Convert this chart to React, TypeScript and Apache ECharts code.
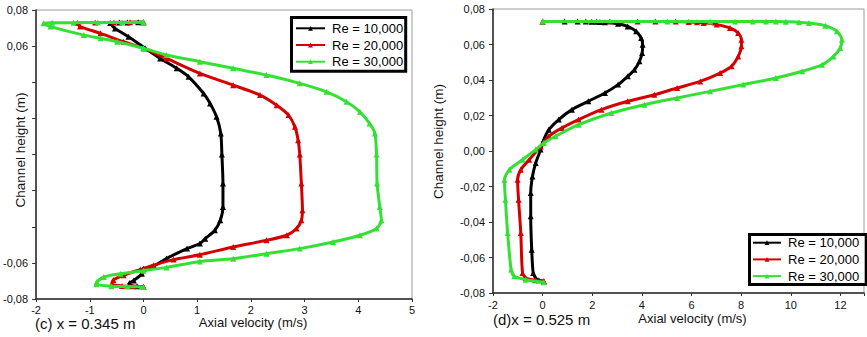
import React, { useEffect, useRef } from 'react';
import * as echarts from 'echarts';

// ---------- data ----------
const seriesNames = ['Re = 10,000', 'Re = 20,000', 'Re = 30,000'];
const seriesColors = ['#000000', '#d40000', '#33e033'];

const leftXTicks = { min: -2, max: 5, interval: 1 };
const rightXTicks = { min: -2, max: 12.95, interval: 2 };
const yTicks = { min: -0.08, max: 0.08, interval: 0.02 };
const leftYLabelsShown = [0.08, 0.06, -0.06, -0.08];

const leftTitle = '(c) x = 0.345 m';
const rightTitle = '(d)x = 0.525 m';
const xName = 'Axial velocity (m/s)';
const yName = 'Channel height (m)';

// panel (c): [axial velocity, channel height]
const leftRe10: number[][] = [
  [0.0, -0.0732], [-0.12, -0.073], [-0.28, -0.0724], [-0.26, -0.0712], [-0.18, -0.0697],
  [-0.03, -0.066], [0.0, -0.0632], [0.16, -0.0623], [0.43, -0.0576], [0.81, -0.0521],
  [1.05, -0.0493], [1.15, -0.0466], [1.33, -0.0419], [1.43, -0.0364], [1.48, -0.029],
  [1.48, -0.0161], [1.46, 0.0], [1.44, 0.0116], [1.36, 0.0209], [1.24, 0.0283],
  [1.12, 0.0338], [0.84, 0.043], [0.62, 0.0477], [0.31, 0.0532], [0.03, 0.0588],
  [-0.28, 0.0652], [-0.53, 0.0698], [-0.62, 0.0728], [-0.45, 0.0731], [-0.3, 0.0731],
  [-0.1, 0.0732], [0.0, 0.0732],
];
const leftRe20: number[][] = [
  [0.0, -0.0732], [-0.2, -0.073], [-0.4, -0.0728], [-0.59, -0.0718], [-0.56, -0.0695],
  [-0.37, -0.0668], [-0.06, -0.0637], [0.19, -0.0613], [0.56, -0.0582], [1.05, -0.0555],
  [1.67, -0.0512], [2.29, -0.0475], [2.67, -0.0447], [2.85, -0.041], [2.94, -0.0364],
  [2.96, -0.0309], [2.94, -0.0161], [2.91, 0.0], [2.88, 0.0079], [2.82, 0.0153],
  [2.7, 0.0218], [2.48, 0.0273], [2.17, 0.0329], [1.67, 0.0384], [1.05, 0.0449],
  [0.43, 0.0532], [0.0, 0.0588], [-0.37, 0.0624], [-0.8, 0.0671], [-1.18, 0.0708],
  [-1.23, 0.0728], [-0.9, 0.0731], [-0.55, 0.0731], [-0.25, 0.0732], [0.0, 0.0732],
];
const leftRe30: number[][] = [
  [0.0, -0.0734], [-0.3, -0.0731], [-0.6, -0.0729], [-0.88, -0.0719], [-0.87, -0.0706],
  [-0.74, -0.0678], [-0.43, -0.066], [0.0, -0.0643], [0.43, -0.0625], [1.05, -0.0592],
  [1.67, -0.0577], [2.29, -0.0549], [2.91, -0.0521], [3.53, -0.0484], [4.03, -0.0447],
  [4.34, -0.041], [4.43, -0.0364], [4.4, -0.029], [4.35, -0.0161], [4.34, 0.0],
  [4.31, 0.0116], [4.21, 0.0172], [4.03, 0.0236], [3.78, 0.0292], [3.41, 0.0347],
  [2.91, 0.0394], [2.29, 0.044], [1.67, 0.0477], [1.05, 0.0514], [0.43, 0.0551],
  [0.0, 0.0588], [-0.49, 0.0624], [-0.8, 0.0643], [-1.11, 0.0661], [-1.73, 0.0708],
  [-1.86, 0.0726], [-1.7, 0.0729], [-1.3, 0.073], [-0.85, 0.0731], [-0.4, 0.0731],
  [0.0, 0.0732],
];

// panel (d)
const rightRe10: number[][] = [
  [0.05, -0.0734], [-0.15, -0.0728], [-0.28, -0.0716], [-0.38, -0.0687], [-0.44, -0.0556],
  [-0.48, -0.0368], [-0.48, -0.0237], [-0.41, -0.0143], [-0.28, -0.0068], [-0.08, 0.0008],
  [0.05, 0.0064], [0.25, 0.012], [0.65, 0.0177], [1.18, 0.0233], [1.84, 0.028],
  [2.51, 0.0327], [3.04, 0.0374], [3.43, 0.0421], [3.7, 0.0458], [3.9, 0.0505],
  [4.01, 0.0552], [4.03, 0.0599], [3.97, 0.0637], [3.77, 0.0674], [3.43, 0.0702],
  [3.04, 0.0717], [2.51, 0.0725], [2.31, 0.0727], [2.18, 0.0728], [1.98, 0.0728],
  [1.74, 0.0729], [1.41, 0.0729], [0.89, 0.0729], [0.0, 0.0729],
];
const rightRe20: number[][] = [
  [0.05, -0.0734], [-0.3, -0.0728], [-0.68, -0.0716], [-0.81, -0.0687], [-0.88, -0.0462],
  [-0.97, -0.0274], [-1.01, -0.0162], [-0.88, -0.0105], [-0.54, -0.0049], [-0.08, 0.0026],
  [0.25, 0.0083], [0.78, 0.013], [1.45, 0.0177], [2.37, 0.0233], [3.43, 0.028],
  [4.5, 0.0317], [5.42, 0.0355], [6.35, 0.0392], [7.15, 0.0439], [7.61, 0.0477],
  [7.88, 0.0533], [8.01, 0.059], [8.01, 0.0627], [7.88, 0.0665], [7.55, 0.0693],
  [7.02, 0.0712], [6.49, 0.0721], [6.22, 0.0725], [5.89, 0.0727], [5.36, 0.0729],
  [4.54, 0.0729], [3.83, 0.0729], [2.71, 0.0729], [0.0, 0.0729],
];
const rightRe30: number[][] = [
  [0.05, -0.074], [-0.68, -0.0725], [-1.14, -0.0706], [-1.27, -0.0668], [-1.41, -0.0462],
  [-1.5, -0.0274], [-1.54, -0.0162], [-1.34, -0.0105], [-0.81, -0.0049], [-0.28, 0.0008],
  [0.05, 0.0045], [0.52, 0.0083], [1.45, 0.0148], [2.77, 0.0214], [4.1, 0.0261],
  [5.42, 0.0299], [6.75, 0.0336], [8.08, 0.0374], [9.4, 0.0411], [10.46, 0.0449],
  [11.26, 0.0486], [11.72, 0.0533], [11.99, 0.058], [12.06, 0.0627], [11.86, 0.0674],
  [11.39, 0.0706], [10.73, 0.0721], [10.33, 0.0726], [9.8, 0.0728], [9.4, 0.0729],
  [9.0, 0.0729], [8.47, 0.0729], [7.75, 0.0729], [6.75, 0.0729], [5.03, 0.0729],
  [0.0, 0.0729],
];

const leftData = [leftRe10, leftRe20, leftRe30];
const rightData = [rightRe10, rightRe20, rightRe30];

// ---------- styling ----------
const FONT = 'Liberation Sans, Arial, Helvetica, sans-serif';
const fmtY = (v: number) => (Math.abs(v) < 1e-9 ? 0 : v).toFixed(2).replace('.', ',');

const axisCommon = {
  axisLine: { show: true, onZero: false, lineStyle: { color: '#2a2a2a', width: 1.5 } },
  splitLine: { show: false },
  nameMoveOverlap: false,
};

function buildOption() {
  const series: any[] = [];
  [leftData, rightData].forEach((panel, gi) => {
    panel.forEach((data, i) => {
      series.push({
        type: 'line',
        name: seriesNames[i],
        data,
        xAxisIndex: gi,
        yAxisIndex: gi,
        symbol: 'triangle',
        symbolSize: 6,
        showSymbol: true,
        showAllSymbol: true,
        smooth: 0.25,
        lineStyle: { color: seriesColors[i], width: 3 },
        itemStyle: { color: seriesColors[i] },
        emphasis: { disabled: true },
        z: 2 + i,
      });
    });
  });

  const legendCommon = {
    data: seriesNames,
    orient: 'vertical',
    itemGap: 2.7,
    itemHeight: 6,
    borderColor: '#000',
    borderWidth: 3,
    backgroundColor: '#fff',
    selectedMode: false,
    textStyle: { fontSize: 13, fontFamily: FONT, color: '#000', lineHeight: 14, padding: [0, 0, 0, 2] },
  };

  return {
    animation: false,
    backgroundColor: '#ffffff',
    textStyle: { fontFamily: FONT },
    grid: [
      { left: 36, top: 10, width: 376, height: 289, show: true, borderColor: '#9a9a9a', borderWidth: 1 },
      { left: 493, top: 9, width: 376, height: 284, show: true, borderColor: '#9a9a9a', borderWidth: 1 },
    ],
    xAxis: [
      {
        type: 'value', gridIndex: 0, ...leftXTicks, ...axisCommon,
        axisTick: { show: true, length: 3, lineStyle: { color: '#333' } },
        axisLabel: { fontSize: 11, lineHeight: 11, color: '#111', fontFamily: FONT, margin: 5 },
        name: xName, nameLocation: 'middle', nameGap: 17,
        nameTextStyle: { fontSize: 13, lineHeight: 13, color: '#111', fontFamily: FONT, padding: [0, 0, 0, 58] },
      },
      {
        type: 'value', gridIndex: 1, ...rightXTicks, ...axisCommon,
        axisTick: { show: true, length: 3, lineStyle: { color: '#333' } },
        axisLabel: {
          fontSize: 11, lineHeight: 11, color: '#111', fontFamily: FONT, margin: 6,
          formatter: (v: number) => (Math.abs(v / 2 - Math.round(v / 2)) < 1e-6 ? String(Math.round(v)) : ''),
        },
        name: xName, nameLocation: 'middle', nameGap: 18.5,
        nameTextStyle: { fontSize: 13, lineHeight: 13, color: '#111', fontFamily: FONT, padding: [0, 0, 0, 28] },
      },
    ],
    yAxis: [
      {
        type: 'value', gridIndex: 0, ...yTicks, ...axisCommon,
        axisTick: { show: true, length: 4, lineStyle: { color: '#333' } },
        axisLabel: {
          fontSize: 11, color: '#111', fontFamily: FONT, margin: 8,
          formatter: (v: number) =>
            leftYLabelsShown.some((s) => Math.abs(s - v) < 1e-6) ? fmtY(v) : '',
        },
        name: yName, nameLocation: 'middle', nameGap: 9, nameRotate: 90,
        nameTextStyle: { fontSize: 13.5, color: '#111', fontFamily: FONT, padding: [0, 0, 0, 9] },
      },
      {
        type: 'value', gridIndex: 1, ...yTicks, ...axisCommon,
        axisTick: { show: true, length: 4, lineStyle: { color: '#333' } },
        axisLabel: { fontSize: 11, color: '#111', fontFamily: FONT, margin: 8, formatter: fmtY },
        name: yName, nameLocation: 'middle', nameGap: 48, nameRotate: 90,
        nameTextStyle: { fontSize: 13.5, color: '#111', fontFamily: FONT, padding: [0, 0, 0, 19] },
      },
    ],
    legend: [
      { ...legendCommon, left: 291.5, top: 17.5, itemWidth: 29, padding: [3.8, 2.5, 2.5, 3.5] },
      { ...legendCommon, left: 749.5, top: 234.5, itemWidth: 28, padding: [1.2, 7, 1.5, 2.5] },
    ],
    graphic: [
      { type: 'text', left: 35, top: 315.5, style: { text: leftTitle, fontSize: 15, lineHeight: 15, fontFamily: FONT, fill: '#111' } },
      { type: 'text', left: 493, top: 311.5, style: { text: rightTitle, fontSize: 15, lineHeight: 15, fontFamily: FONT, fill: '#111' } },
    ],
    series,
  };
}

export default function App() {
  const ref = useRef<HTMLDivElement>(null);
  useEffect(() => {
    if (!ref.current) return;
    const chart = echarts.init(ref.current, null, { renderer: 'svg' });
    chart.setOption(buildOption() as any);
    return () => chart.dispose();
  }, []);
  return (
    <div
      ref={ref}
      style={{ position: 'fixed', left: 0, top: 0, width: 867, height: 337, background: '#fff' }}
    />
  );
}
